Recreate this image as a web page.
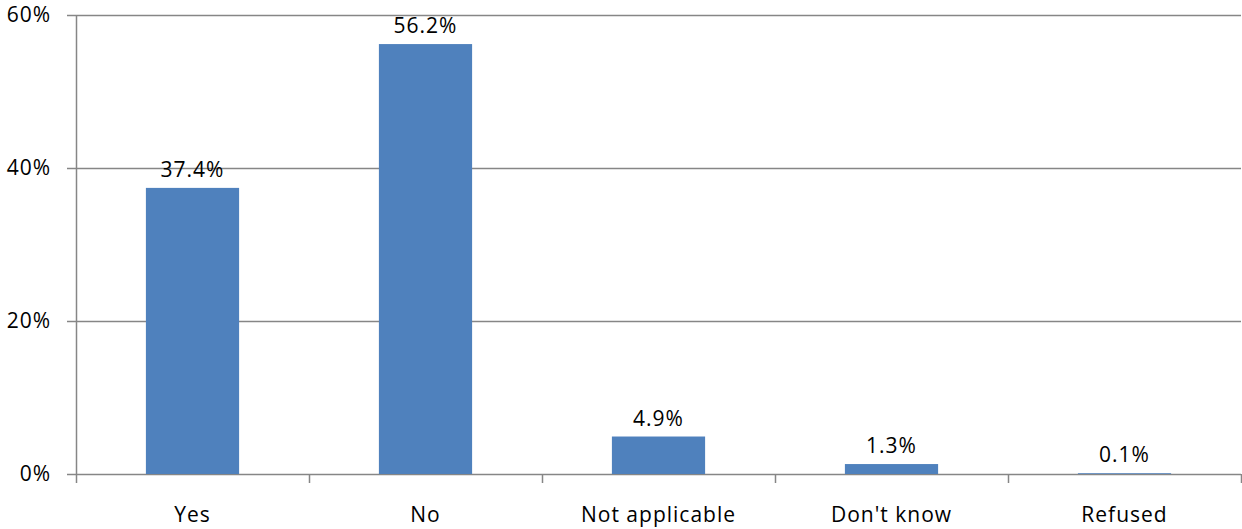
<!DOCTYPE html>
<html>
<head>
<meta charset="utf-8">
<script src="https://cdn.jsdelivr.net/npm/d3@7"></script>
<style>
  body { margin: 0; background: #fff; }
  text { font-family: "Open Sans", "Liberation Sans", sans-serif; fill: #000; font-size: 21px; letter-spacing: 1px; }
</style>
</head>
<body>
<div class="vis-bar"></div>
<script>
const categories = ["Yes", "No", "Not applicable", "Don't know", "Refused"];
const values = [37.4, 56.2, 4.9, 1.3, 0.1];
const yTicks = [0, 20, 40, 60];

const width = 1242;
const height = 529;
const margin = { top: 15, right: 1, bottom: 55, left: 76 };

const svg = d3
  .select(".vis-bar")
  .append("svg")
  .attr("width", width)
  .attr("height", height);

const x = d3
  .scaleBand()
  .domain(categories)
  .range([margin.left, width - margin.right])
  .paddingInner(0.6)
  .paddingOuter(0.3);

const y = d3
  .scaleLinear()
  .domain([0, 60])
  .range([height - margin.bottom, margin.top]);

// gridlines
svg
  .append("g")
  .selectAll("line")
  .data(yTicks)
  .enter()
  .append("line")
  .attr("x1", margin.left - 9)
  .attr("x2", width - margin.right)
  .attr("y1", (d) => Math.round(y(d)) + 0.5)
  .attr("y2", (d) => Math.round(y(d)) + 0.5)
  .attr("stroke", "#868686")
  .attr("stroke-width", 1.5);

// y labels
svg
  .append("g")
  .selectAll("text")
  .data(yTicks)
  .enter()
  .append("text")
  .attr("x", margin.left - 25)
  .attr("y", (d) => y(d))
  .attr("dy", "0.35em")
  .attr("text-anchor", "end")
  .text((d) => d + "%");

// y axis line
svg
  .append("line")
  .attr("x1", margin.left + 0.5)
  .attr("x2", margin.left + 0.5)
  .attr("y1", y(60))
  .attr("y2", y(0))
  .attr("stroke", "#868686")
  .attr("stroke-width", 1.5);

// category tick marks between bands
const bounds = d3.range(categories.length + 1).map((i) => margin.left + i * ((width - margin.right - margin.left) / categories.length));
svg
  .append("g")
  .selectAll("line")
  .data(bounds)
  .enter()
  .append("line")
  .attr("x1", (d) => Math.round(d) + 0.5)
  .attr("x2", (d) => Math.round(d) + 0.5)
  .attr("y1", y(0))
  .attr("y2", y(0) + 9)
  .attr("stroke", "#868686")
  .attr("stroke-width", 1.5);

// bars
svg
  .append("g")
  .selectAll("rect")
  .data(values)
  .enter()
  .append("rect")
  .attr("x", (d, i) => x(categories[i]))
  .attr("y", (d) => y(d))
  .attr("width", x.bandwidth())
  .attr("height", (d) => y(0) - y(d))
  .attr("fill", "#4F81BD");

// value labels
svg
  .append("g")
  .selectAll("text")
  .data(values)
  .enter()
  .append("text")
  .attr("x", (d, i) => x(categories[i]) + x.bandwidth() / 2)
  .attr("y", (d) => y(d) - 11)
  .attr("text-anchor", "middle")
  .text((d) => d.toFixed(1) + "%");

// category labels
svg
  .append("g")
  .selectAll("text")
  .data(categories)
  .enter()
  .append("text")
  .attr("x", (d) => x(d) + x.bandwidth() / 2)
  .attr("y", y(0) + 48)
  .attr("text-anchor", "middle")
  .text((d) => d);
</script>
</body>
</html>
